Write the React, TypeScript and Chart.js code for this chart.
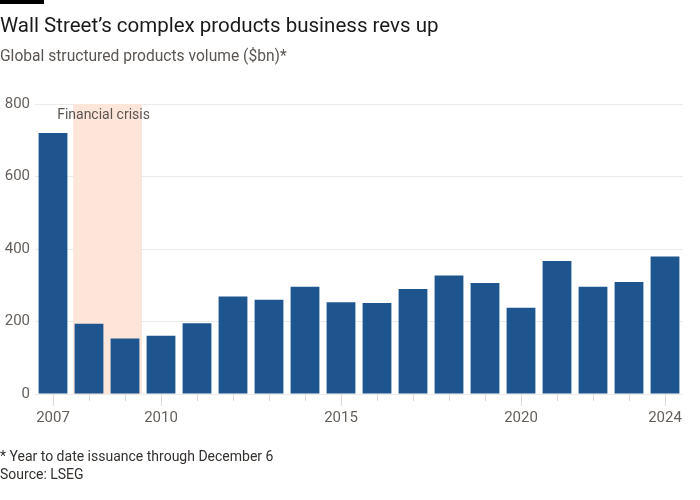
import React, { useEffect, useRef } from "react";
import { Chart, registerables } from "chart.js";

Chart.register(...registerables);

const years = ["2007","2008","2009","2010","2011","2012","2013","2014","2015","2016","2017","2018","2019","2020","2021","2022","2023","2024"];
const volumes = [720, 194, 153, 161, 195, 269, 260, 296, 253, 251, 290, 327, 306, 238, 367, 296, 309, 379];
const labeledYears = ["2007", "2010", "2015", "2020", "2024"];
const yTickValues = [0, 200, 400, 600, 800];
const crisisLabel = "Financial crisis";
const crisisStart = 0.56; // category-index position
const crisisEnd = 2.47;

const FONT = "Roboto, 'Noto Sans', sans-serif";

const overlayPlugin = {
  id: "overlay",
  beforeDatasetsDraw(chart: any) {
    const { ctx, chartArea, scales } = chart;
    const x0 = scales.x.getPixelForValue(crisisStart);
    const x1 = scales.x.getPixelForValue(crisisEnd);
    ctx.save();
    ctx.fillStyle = "#fde5da";
    ctx.fillRect(x0, chartArea.top, x1 - x0, chartArea.bottom - chartArea.top);
    ctx.fillStyle = "#5a5551";
    ctx.font = `14px ${FONT}`;
    ctx.textAlign = "center";
    ctx.textBaseline = "middle";
    ctx.fillText(crisisLabel, (x0 + x1) / 2 - 4, chartArea.top + 11);
    ctx.restore();
  },
  afterDraw(chart: any) {
    const { ctx, chartArea, scales } = chart;
    ctx.save();
    ctx.strokeStyle = "#dcdcdc";
    ctx.lineWidth = 1;
    years.forEach((y, i) => {
      const x = Math.round(scales.x.getPixelForValue(i)) + 0.5;
      const len = labeledYears.includes(y) ? 12 : 7;
      ctx.beginPath();
      ctx.moveTo(x, chartArea.bottom);
      ctx.lineTo(x, chartArea.bottom + len);
      ctx.stroke();
    });
    ctx.restore();
  },
};

function BarChart() {
  const ref = useRef<HTMLCanvasElement | null>(null);
  useEffect(() => {
    if (!ref.current) return;
    const chart = new Chart(ref.current, {
      type: "bar",
      data: {
        labels: years,
        datasets: [
          {
            data: volumes,
            backgroundColor: "#1e558e",
            borderWidth: 0,
            categoryPercentage: 1,
            barPercentage: 0.8,
          },
        ],
      },
      options: {
        animation: false,
        responsive: false,
        maintainAspectRatio: false,
        layout: { padding: { top: 104, right: 17, bottom: 66, left: 0 } },
        plugins: { legend: { display: false }, tooltip: { enabled: false }, title: { display: false } },
        scales: {
          x: {
            grid: { display: false, drawTicks: false },
            border: { display: false },
            afterFit: (s: any) => { s.height = 40; },
            ticks: {
              autoSkip: false,
              maxRotation: 0,
              padding: 15,
              color: "#66605c",
              font: { family: FONT, size: 15 },
              callback: (_v: any, i: number) => (labeledYears.includes(years[i]) ? years[i] : ""),
            },
          },
          y: {
            min: 0,
            max: 800,
            afterFit: (s: any) => { s.width = 35; },
            afterBuildTicks: (s: any) => { s.ticks = yTickValues.map((v) => ({ value: v })); },
            grid: { color: "#ebebeb", lineWidth: 1, drawTicks: false },
            border: { display: false },
            ticks: {
              padding: 5,
              color: "#66605c",
              font: { family: FONT, size: 15 },
            },
          },
        },
      },
      plugins: [overlayPlugin],
    });
    return () => chart.destroy();
  }, []);
  return <canvas ref={ref} width={700} height={500} style={{ position: "absolute", left: 0, top: 0 }} />;
}

export default function App() {
  useEffect(() => {
    document.body.style.margin = "0";
  }, []);
  return (
    <div style={{ position: "relative", width: 700, height: 500, background: "#fff", overflow: "hidden", fontFamily: FONT }}>
      <div style={{ position: "absolute", left: 0, top: 0, width: 44, height: 4, background: "#000" }} />
      <BarChart />
      <div style={{ position: "absolute", left: 0, top: 13, fontSize: 20.5, color: "#1a1a1a", whiteSpace: "nowrap" }}>
        Wall Street’s complex products business revs up
      </div>
      <div style={{ position: "absolute", left: 0, top: 47, fontSize: 15.6, color: "#5a5551", whiteSpace: "nowrap" }}>
        Global structured products volume ($bn)*
      </div>
      <div style={{ position: "absolute", left: 0, top: 447, fontSize: 14, color: "#33302e", whiteSpace: "nowrap", lineHeight: "18px" }}>
        <div>* Year to date issuance through December 6</div>
        <div>Source: LSEG</div>
      </div>
    </div>
  );
}
